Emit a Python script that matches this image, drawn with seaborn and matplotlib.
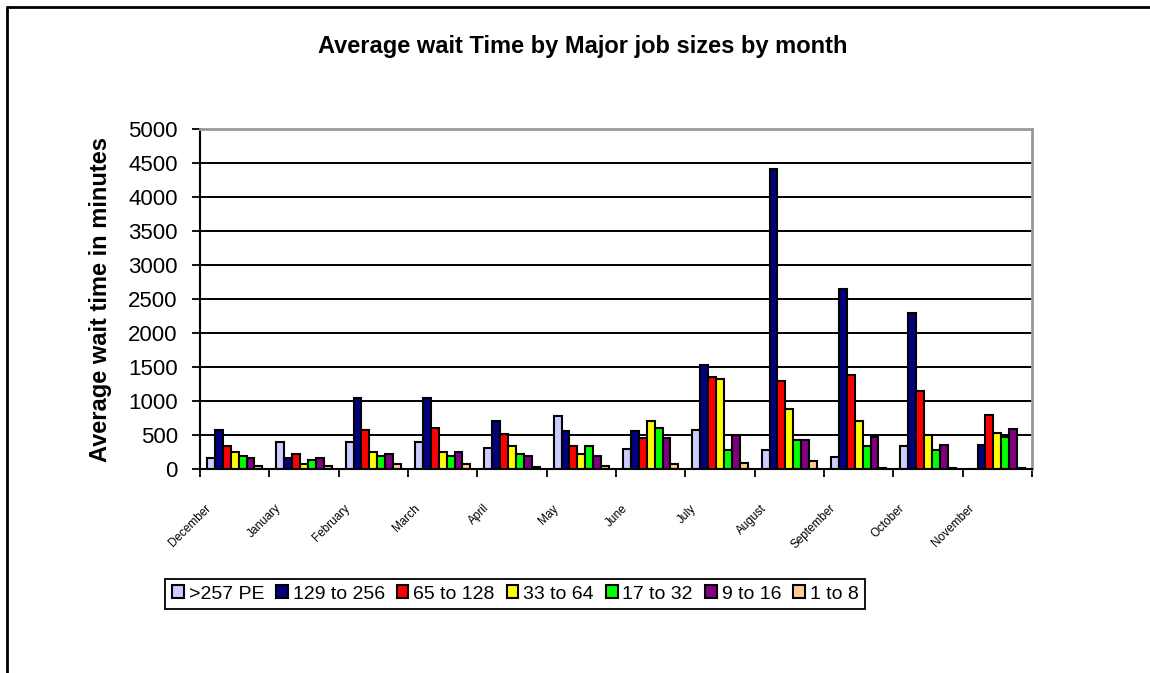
import pandas as pd
import matplotlib.pyplot as plt
import seaborn as sns
from matplotlib.lines import Line2D
from matplotlib.ticker import FixedLocator, MultipleLocator

months = ['December', 'January', 'February', 'March', 'April', 'May', 'June',
          'July', 'August', 'September', 'October', 'November']
sizes = ['>257 PE', '129 to 256', '65 to 128', '33 to 64', '17 to 32', '9 to 16', '1 to 8']

pe_257 = [167, 402, 397, 397, 314, 784, 289, 578, 285, 172, 343, 0]
pe_129 = [573, 167, 1049, 1049, 701, 554, 554, 1526, 4411, 2645, 2296, 348]
pe_65 = [338, 220, 573, 603, 510, 338, 461, 1349, 1290, 1379, 1143, 795]
pe_33 = [255, 69, 250, 250, 338, 225, 701, 1320, 878, 702, 500, 525]
pe_17 = [191, 132, 191, 191, 225, 338, 608, 285, 427, 343, 285, 466]
pe_9 = [167, 167, 225, 255, 191, 191, 461, 500, 432, 466, 348, 584]
pe_1 = [49, 49, 78, 78, 25, 49, 74, 83, 113, 12, 18, 15]

colors = ['#CCCCFF', '#000080', '#FF0000', '#FFFF00', '#00FF00', '#800080', '#FFCC99']

series = [pe_257, pe_129, pe_65, pe_33, pe_17, pe_9, pe_1]
rows = []
for s, vals in zip(sizes, series):
    for m, v in zip(months, vals):
        rows.append({'Month': m, 'Size': s, 'Wait': v})
df = pd.DataFrame(rows)

sns.set_theme(style='white')
plt.rcParams['font.family'] = ['Liberation Sans', 'DejaVu Sans']
plt.rcParams['text.color'] = 'black'
plt.rcParams['axes.labelcolor'] = 'black'
plt.rcParams['xtick.color'] = 'black'
plt.rcParams['ytick.color'] = 'black'

fig = plt.figure(figsize=(11.5, 6.73), dpi=100)
ax = fig.add_axes([0.1739, 0.3031, 0.7235, 0.5052])

sns.barplot(data=df, x='Month', y='Wait', hue='Size', order=months, hue_order=sizes,
            palette=colors, edgecolor='black', linewidth=1.5, width=0.8,
            saturation=1, errorbar=None, ax=ax)

ax.set_ylim(0, 5000)
ax.set_xlim(-0.5, 11.5)
ax.yaxis.set_major_locator(MultipleLocator(500))
ax.grid(axis='y', color='black', linewidth=1.4)
ax.set_axisbelow(True)

# category boundaries carry the ticks, month names sit at the centres
ax.xaxis.set_major_locator(FixedLocator([i - 0.5 for i in range(13)]))
ax.set_xticklabels([])
ax.tick_params(axis='x', which='major', direction='out', length=6, width=1.3, color='black', bottom=True)
ax.tick_params(axis='y', direction='out', length=6, width=1.3, color='black', left=True,
               labelsize=16, pad=10, labelcolor='black')
for i, m in enumerate(months):
    ax.annotate(m, xy=(i, 0), xycoords=('data', 'axes fraction'), xytext=(-15, -24),
                textcoords='offset points', rotation=45, ha='right', va='top',
                fontsize=8.5, color='black')

for side in ['left', 'bottom']:
    ax.spines[side].set_color('black')
    ax.spines[side].set_linewidth(1.5)
for side in ['top', 'right']:
    ax.spines[side].set_color('#999999')
    ax.spines[side].set_linewidth(2)

ax.set_xlabel('')
ax.set_ylabel('Average wait time in minutes', fontsize=17, fontweight='bold', color='black')
ax.yaxis.set_label_coords(-0.106, 0.5)

handles, labels = ax.get_legend_handles_labels()
leg = ax.legend(handles, labels, ncol=7, loc='center', bbox_to_anchor=(0.448, 0.1174),
                bbox_transform=fig.transFigure, fontsize=14, frameon=True, fancybox=False,
                edgecolor='black', handlelength=0.6, handleheight=0.6, handletextpad=0.25,
                columnspacing=0.62, borderpad=0.35, framealpha=1)
leg.get_frame().set_linewidth(1.3)
for t in leg.get_texts():
    t.set_color('black')

fig.text(0.507, 0.9316, 'Average wait Time by Major job sizes by month',
         ha='center', va='center', fontsize=17, fontweight='bold', color='black')

# outer chart frame (top and left edges visible)
fig.add_artist(Line2D([0.0061, 1.0], [0.9896, 0.9896], color='black', linewidth=2))
fig.add_artist(Line2D([0.0061, 0.0061], [0.0, 0.9896], color='black', linewidth=2))

fig.savefig('out.png', dpi=100)
